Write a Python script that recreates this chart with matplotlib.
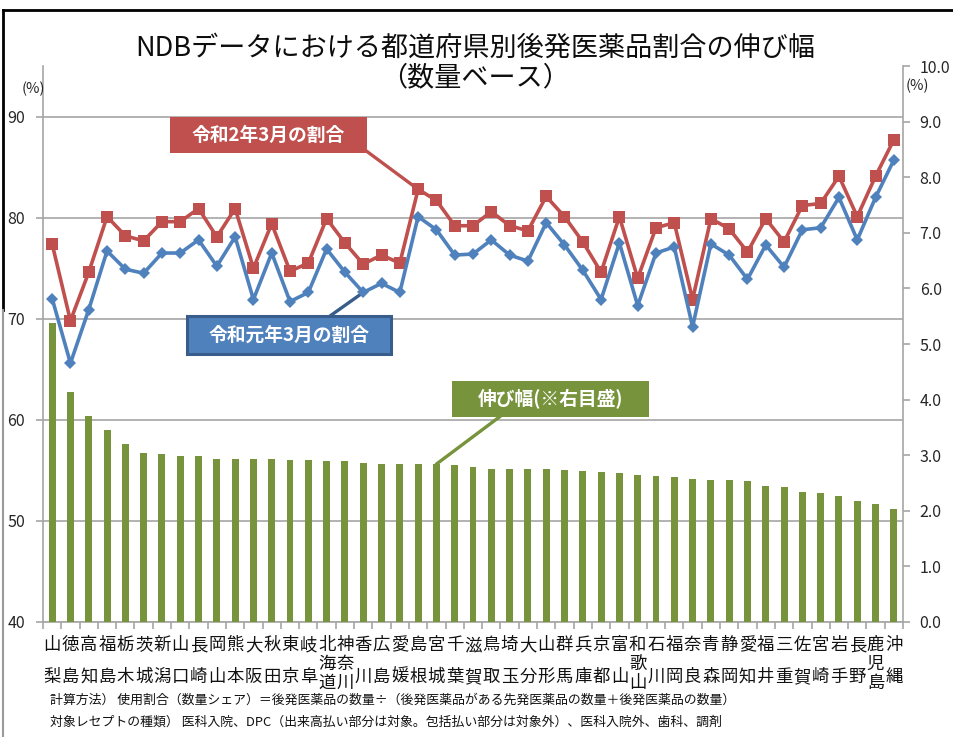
import matplotlib
matplotlib.use('Agg')
import matplotlib.pyplot as plt
import matplotlib.ticker as mticker
import numpy as np
from matplotlib.patches import Rectangle
from matplotlib.lines import Line2D

plt.rcParams['font.family'] = ['Noto Sans CJK JP', 'DejaVu Sans']

# 都道府県（伸び幅の大きい順）
prefs = ['山梨', '徳島', '高知', '福島', '栃木', '茨城', '新潟', '山口', '長崎', '岡山',
         '熊本', '大阪', '秋田', '東京', '岐阜', '北海道', '神奈川', '香川', '広島', '愛媛',
         '島根', '宮城', '千葉', '滋賀', '鳥取', '埼玉', '大分', '山形', '群馬', '兵庫',
         '京都', '富山', '和歌山', '石川', '福岡', '奈良', '青森', '静岡', '愛知', '福井',
         '三重', '佐賀', '宮崎', '岩手', '長野', '鹿児島', '沖縄']

# 令和2年3月の割合 (%)
share_r2 = [77.4, 69.8, 74.6, 80.1, 78.2, 77.7, 79.6, 79.6, 80.9, 78.1,
            80.9, 75.0, 79.4, 74.7, 75.5, 79.9, 77.5, 75.4, 76.3, 75.5,
            82.8, 81.7, 79.2, 79.2, 80.6, 79.2, 78.7, 82.1, 80.1, 77.6,
            74.6, 80.1, 74.0, 79.0, 79.5, 71.9, 79.9, 78.9, 76.6, 79.9,
            77.6, 81.2, 81.4, 84.1, 80.1, 84.1, 87.7]

# 令和元年3月の割合 (%)
share_r1 = [72.0, 65.6, 70.9, 76.7, 74.9, 74.5, 76.5, 76.5, 77.8, 75.2,
            78.1, 71.9, 76.5, 71.7, 72.6, 76.9, 74.6, 72.6, 73.5, 72.6,
            80.1, 78.8, 76.3, 76.4, 77.8, 76.3, 75.7, 79.5, 77.3, 74.8,
            71.9, 77.5, 71.3, 76.5, 77.1, 69.2, 77.4, 76.3, 73.9, 77.3,
            75.1, 78.8, 79.0, 82.0, 77.8, 82.0, 85.7]

# 伸び幅（ポイント、右目盛）
growth = [5.38, 4.14, 3.70, 3.45, 3.21, 3.04, 3.03, 2.98, 2.98, 2.94,
          2.94, 2.94, 2.93, 2.92, 2.91, 2.89, 2.89, 2.86, 2.84, 2.84,
          2.84, 2.84, 2.83, 2.78, 2.76, 2.76, 2.76, 2.75, 2.74, 2.72,
          2.70, 2.68, 2.65, 2.63, 2.61, 2.58, 2.56, 2.55, 2.53, 2.45,
          2.42, 2.34, 2.32, 2.27, 2.18, 2.13, 2.03]

left_ticks = [40, 50, 60, 70, 80, 90]
right_ticks = list(range(0, 11))

W, H = 954, 737
RED = '#C0504D'
BLUE = '#4F81BD'
BLUE_DARK = '#385D8A'
GREEN = '#77933C'
GRID = '#A6A6A6'
TXT = '#262626'


def fx(px):
    return px / W


def fy(py):
    return 1 - py / H


fig = plt.figure(figsize=(W / 100, H / 100), dpi=100)
ax = fig.add_axes([fx(43), fy(622), fx(903) - fx(43), fy(66) - fy(622)])
axb = ax.twinx()   # bars, right scale
axl = ax.twinx()   # lines, left scale

x = np.arange(len(prefs))

# --- left axis: grid and ticks ---
ax.set_xlim(-0.5, len(prefs) - 0.5)
ax.set_ylim(40, 95)
ax.set_yticks(left_ticks)
ax.yaxis.grid(True, color=GRID, linewidth=1.2)
ax.set_axisbelow(True)
ax.set_xticks([])
ax.set_xticks(np.arange(-0.5, len(prefs), 1), minor=True)
ax.tick_params(axis='x', which='minor', length=5, color=GRID, width=1.2)
ax.tick_params(axis='y', length=5, color=GRID, width=1.2, labelsize=11.5,
               labelcolor=TXT, pad=8)
for s in ['top', 'right']:
    ax.spines[s].set_visible(False)
for s in ['left', 'bottom']:
    ax.spines[s].set_color(GRID)
    ax.spines[s].set_linewidth(1.2)

# --- right axis: growth bars ---
axb.bar(x, growth, width=0.38, color=GREEN, zorder=2)
axb.set_ylim(0, 10)
axb.set_yticks(right_ticks)
axb.yaxis.set_major_formatter(mticker.FormatStrFormatter('%.1f'))
axb.tick_params(axis='y', length=5, color=GRID, width=1.2, labelsize=11.5,
                labelcolor=TXT, pad=7)
for s in ['top', 'left', 'bottom']:
    axb.spines[s].set_visible(False)
axb.spines['right'].set_color(GRID)
axb.spines['right'].set_linewidth(1.2)

# --- share lines ---
axl.set_ylim(40, 95)
axl.yaxis.set_visible(False)
for s in axl.spines.values():
    s.set_visible(False)
axl.plot(x, share_r2, color=RED, linewidth=2.6, marker='s', markersize=8.5,
         markeredgewidth=0, zorder=3)
axl.plot(x, share_r1, color=BLUE, linewidth=2.6, marker='D', markersize=6,
         markeredgewidth=0, zorder=4)

# --- category labels, written vertically ---
for i, name in enumerate(prefs):
    offsets = [23, 55] if len(name) == 2 else [23, 42, 61]
    for ch, off in zip(name, offsets):
        ax.annotate(ch, xy=(i, 0), xycoords=ax.get_xaxis_transform(),
                    xytext=(0, -off), textcoords='offset pixels',
                    ha='center', va='center', fontsize=12.5, color='#111111')

# --- callouts ---
axl.annotate('', xy=(20, share_r2[20]), xycoords=axl.transData,
             xytext=(fx(365), fy(150)), textcoords='figure fraction',
             arrowprops=dict(arrowstyle='-', color=RED, lw=2.4,
                             shrinkA=0, shrinkB=0))
axl.annotate('', xy=(17, share_r1[17]), xycoords=axl.transData,
             xytext=(fx(330), fy(316)), textcoords='figure fraction',
             arrowprops=dict(arrowstyle='-', color=BLUE_DARK, lw=2.4,
                             shrinkA=0, shrinkB=0))
axl.annotate('', xy=(21, growth[21]), xycoords=axb.transData,
             xytext=(fx(502), fy(415)), textcoords='figure fraction',
             arrowprops=dict(arrowstyle='-', color=GREEN, lw=2.4,
                             shrinkA=0, shrinkB=0))


def callout(x0, y0, x1, y1, text, face, edge=None):
    rect = Rectangle((fx(x0), fy(y1)), fx(x1) - fx(x0), fy(y0) - fy(y1),
                     transform=fig.transFigure, facecolor=face,
                     edgecolor=edge if edge else face,
                     linewidth=2.2 if edge else 0, zorder=5)
    fig.add_artist(rect)
    fig.text(fx((x0 + x1) / 2), fy((y0 + y1) / 2), text, ha='center', va='center',
             color='white', fontsize=13.5, fontweight='bold', zorder=6)


callout(170, 117, 367, 153, '令和2年3月の割合', RED)
callout(187, 316, 391, 354, '令和元年3月の割合', BLUE, BLUE_DARK)
callout(452, 381, 649, 417, '伸び幅(※右目盛)', GREEN)

# --- titles and axis units ---
fig.text(fx(475), fy(48), 'NDBデータにおける都道府県別後発医薬品割合の伸び幅',
         ha='center', va='center', fontsize=19.5, color='#0d0d0d')
fig.text(fx(475), fy(78), '（数量ベース）',
         ha='center', va='center', fontsize=19.5, color='#0d0d0d')
fig.text(fx(33), fy(89), '(%)', ha='center', va='center', fontsize=10.5, color=TXT)
fig.text(fx(917), fy(86), '(%)', ha='center', va='center', fontsize=10.5, color=TXT)

# --- notes ---
fig.text(fx(50), fy(700),
         '計算方法） 使用割合（数量シェア）＝後発医薬品の数量÷（後発医薬品がある先発医薬品の数量＋後発医薬品の数量）',
         ha='left', va='center', fontsize=9.3, color='#111111')
fig.text(fx(50), fy(722),
         '対象レセプトの種類） 医科入院、DPC（出来高払い部分は対象。包括払い部分は対象外）、医科入院外、歯科、調剤',
         ha='left', va='center', fontsize=9.3, color='#111111')

# --- outer frame ---
fig.add_artist(Line2D([fx(3), 1], [fy(10), fy(10)], transform=fig.transFigure,
                      color='black', linewidth=2))
fig.add_artist(Line2D([fx(3), fx(3)], [fy(10), fy(310)], transform=fig.transFigure,
                      color='black', linewidth=2))
fig.add_artist(Line2D([fx(3), fx(3)], [fy(310), 0], transform=fig.transFigure,
                      color='#9a9a9a', linewidth=1.5))

fig.savefig('out.png', dpi=100)
